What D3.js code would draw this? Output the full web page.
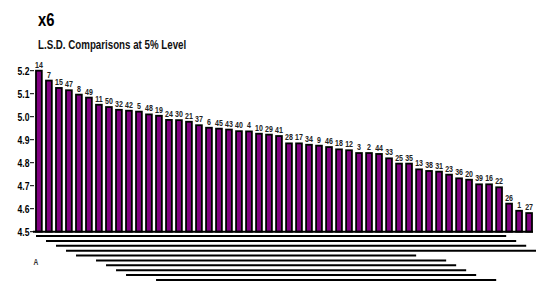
<!DOCTYPE html>
<html>
<head>
<meta charset="utf-8">
<script src="https://cdn.jsdelivr.net/npm/d3@7"></script>
<style>
  body { margin: 0; background: #fff; }
  text { font-family: "Liberation Sans Narrow", "Arial Narrow", "Liberation Sans", sans-serif; }
</style>
</head>
<body>
<div id="chart"></div>
<script>
// treatment labels, sorted by mean
var treatments = ['14','7','15','47','8','49','11','50','32','42',
                  '5','48','19','24','30','21','37','6','45','43',
                  '40','4','10','29','41','28','17','34','9','46',
                  '18','12','3','2','44','33','25','35','13','38',
                  '31','23','36','20','39','16','22','26','1','27'];

var means = [5.200, 5.157, 5.125, 5.115, 5.096, 5.083, 5.052, 5.042, 5.030, 5.026,
             5.022, 5.010, 5.004, 4.986, 4.985, 4.978, 4.963, 4.952, 4.948, 4.944,
             4.937, 4.936, 4.926, 4.922, 4.916, 4.884, 4.884, 4.878, 4.874, 4.868,
             4.858, 4.854, 4.842, 4.842, 4.838, 4.819, 4.796, 4.796, 4.771, 4.764,
             4.761, 4.748, 4.732, 4.726, 4.706, 4.706, 4.693, 4.622, 4.591, 4.581];

var yTicks = [4.5, 4.6, 4.7, 4.8, 4.9, 5.0, 5.1, 5.2];

// non-significant groups (first and last treatment index in sorted order)
var groupStart = [0, 1, 2, 3, 4, 6, 7, 8, 9, 12];
var groupEnd   = [46, 47, 48, 49, 37, 40, 41, 42, 43, 45];

var width = 536, height = 282;
var narrow = 0.78; // no narrow font installed, squeeze text instead

var svg = d3.select('#chart').append('svg')
    .attr('width', width)
    .attr('height', height);

function squeezed(sel, px, py) {
    return sel.attr('transform', function(d, i) {
        return 'translate(' + px(d, i) + ',' + py(d, i) + ') scale(' + narrow + ',1)';
    });
}

var x = d3.scaleBand()
    .domain(d3.range(treatments.length))
    .range([35, 533])
    .paddingInner(0.42)
    .paddingOuter(0.1);

var y = d3.scaleLinear()
    .domain([4.5, 5.2])
    .range([231.7, 70.7]);

// title
svg.append('text')
    .attr('transform', 'translate(38,26) scale(' + narrow + ',1)')
    .style('font-size', '19px').style('font-weight', 'bold')
    .text('x6');
svg.append('text')
    .attr('transform', 'translate(38,48.5) scale(' + narrow + ',1)')
    .style('font-size', '12.5px').style('font-weight', 'bold')
    .style('fill', '#111')
    .text('L.S.D. Comparisons at 5% Level');

// y axis: labels and short ticks
var yAxis = svg.append('g');
squeezed(yAxis.selectAll('text')
    .data(yTicks)
  .enter().append('text'),
    function() { return 29.5; },
    function(d) { return y(d) + 4; })
    .attr('text-anchor', 'end')
    .style('font-size', '11px').style('font-weight', 'bold')
    .text(function(d) { return d.toFixed(1); });
yAxis.selectAll('line')
    .data(yTicks)
  .enter().append('line')
    .attr('x1', 30).attr('x2', 34)
    .attr('y1', function(d) { return y(d); })
    .attr('y2', function(d) { return y(d); })
    .attr('stroke', '#000').attr('stroke-width', 1);

// bars
svg.selectAll('.bar')
    .data(means)
  .enter().append('rect')
    .attr('class', 'bar')
    .attr('x', function(d, i) { return x(i); })
    .attr('y', function(d) { return y(d); })
    .attr('width', x.bandwidth())
    .attr('height', function(d) { return y(4.5) - y(d); })
    .attr('fill', '#800080')
    .attr('stroke', '#000')
    .attr('stroke-width', 1.8);

// labels over bars
squeezed(svg.selectAll('.lab')
    .data(means)
  .enter().append('text')
    .attr('class', 'lab'),
    function(d, i) { return x(i) + x.bandwidth() / 2; },
    function(d) { return y(d) - 3; })
    .attr('text-anchor', 'middle')
    .style('font-size', '9px').style('font-weight', 'bold')
    .style('fill', '#222')
    .text(function(d, i) { return treatments[i]; });

// baseline
svg.append('line')
    .attr('x1', 33).attr('x2', 533)
    .attr('y1', y(4.5)).attr('y2', y(4.5))
    .attr('stroke', '#000').attr('stroke-width', 2);

// group lines
var rows = d3.scalePoint()
    .domain(d3.range(groupStart.length))
    .range([236, 280]);

var step = x.step();
svg.selectAll('.grp')
    .data(groupStart)
  .enter().append('line')
    .attr('class', 'grp')
    .attr('x1', function(d) { return x(d); })
    .attr('x2', function(d, i) { return x(groupEnd[i]) + step; })
    .attr('y1', function(d, i) { return rows(i); })
    .attr('y2', function(d, i) { return rows(i); })
    .attr('stroke', '#000').attr('stroke-width', 2);

svg.append('text')
    .attr('transform', 'translate(33.5,265) scale(' + narrow + ',1)')
    .style('font-size', '8.5px').style('font-weight', 'bold')
    .style('fill', '#333')
    .text('A');
</script>
</body>
</html>
